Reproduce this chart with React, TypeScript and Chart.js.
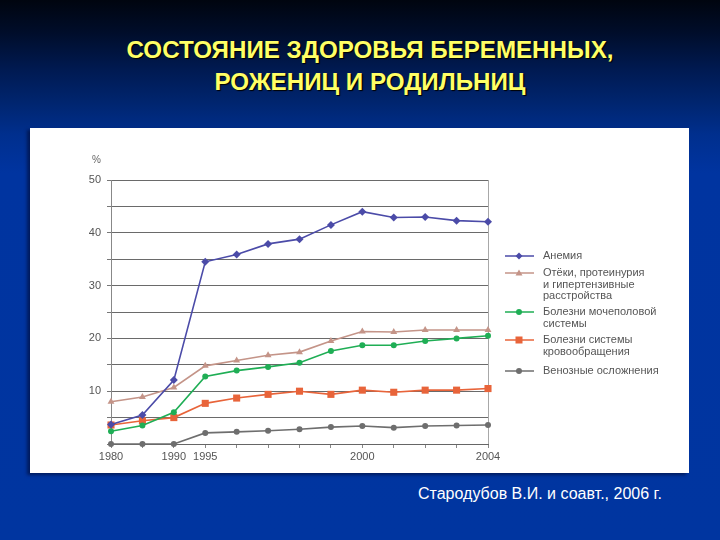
import React, { useEffect, useRef } from "react";
import { Chart, registerables } from "chart.js";

Chart.register(...registerables);

const years = ["1980", "1985", "1990", "1995", "1996", "1997", "1998", "1999", "2000", "2001", "2002", "2003", "2004"];
const xTickLabels = ["1980", "", "1990", "1995", "", "", "", "", "2000", "", "", "", "2004"];

const anemia = [3.7, 5.5, 12.1, 34.5, 35.9, 37.9, 38.8, 41.5, 44.0, 42.9, 43.0, 42.3, 42.1];
const edema = [8.0, 8.9, 10.7, 14.8, 15.8, 16.8, 17.4, 19.5, 21.3, 21.2, 21.6, 21.6, 21.6];
const urinary = [2.4, 3.5, 6.0, 12.8, 13.9, 14.6, 15.4, 17.6, 18.7, 18.7, 19.5, 20.0, 20.5];
const circulatory = [3.6, 4.4, 5.0, 7.7, 8.7, 9.4, 10.0, 9.4, 10.2, 9.8, 10.2, 10.2, 10.5];
const venous = [0, 0, 0, 2.1, 2.3, 2.5, 2.8, 3.2, 3.4, 3.1, 3.4, 3.5, 3.6];

const seriesNames = [
  "Анемия",
  "Отёки, протеинурия\nи гипертензивные\nрасстройства",
  "Болезни мочеполовой\nсистемы",
  "Болезни системы\nкровообращения",
  "Венозные осложнения",
];
const seriesColors = ["#4b4ba8", "#c49488", "#1fae55", "#e8643a", "#6e6e6e"];
const seriesStyles = ["rectRot", "triangle", "circle", "rect", "circle"];
const seriesRadius = [4, 4, 3, 5, 3];
const seriesData = [anemia, edema, urinary, circulatory, venous];

const legendTops = [251, 268, 307, 335, 366];

function Marker({ style, color }: { style: string; color: string }) {
  let shape: React.ReactNode = null;
  if (style === "rectRot") shape = <polygon points="14,1.5 17.5,5 14,8.5 10.5,5" fill={color} />;
  else if (style === "triangle") shape = <polygon points="14,1.5 17.5,7.5 10.5,7.5" fill={color} />;
  else if (style === "rect") shape = <rect x="10.5" y="1.5" width="7" height="7" fill={color} />;
  else shape = <circle cx="14" cy="5" r="3" fill={color} />;
  return (
    <svg width="29" height="10" style={{ display: "block" }}>
      <line x1="0" y1="5" x2="29" y2="5" stroke={color} strokeWidth="1.5" />
      {shape}
    </svg>
  );
}

export default function App() {
  const canvasRef = useRef<HTMLCanvasElement | null>(null);

  useEffect(() => {
    if (!canvasRef.current) return;
    const chart = new Chart(canvasRef.current, {
      type: "line",
      data: {
        labels: years,
        datasets: seriesData.map((d, i) => ({
          label: seriesNames[i],
          data: d,
          borderColor: seriesColors[i],
          backgroundColor: seriesColors[i],
          pointBackgroundColor: seriesColors[i],
          pointBorderColor: seriesColors[i],
          pointStyle: seriesStyles[i] as any,
          pointRadius: seriesRadius[i],
          pointBorderWidth: 0,
          borderWidth: 1.6,
          tension: 0,
          fill: false,
          clip: false as any,
          order: i === 0 ? -1 : i,
        })),
      },
      options: {
        responsive: false,
        animation: false,
        layout: { padding: { left: 0, right: 201, top: 52, bottom: 0 } },
        plugins: { legend: { display: false }, tooltip: { enabled: false } },
        scales: {
          x: {
            type: "category",
            offset: false,
            afterFit: (s: any) => {
              s.height = 29;
            },
            grid: {
              display: true,
              drawOnChartArea: true,
              drawTicks: true,
              tickLength: 4,
              color: (ctx: any) => (ctx.index === years.length - 1 ? "#a8a8a8" : "rgba(0,0,0,0)"),
              tickColor: "#888",
            },
            border: { display: true, color: "#666" },
            ticks: {
              autoSkip: false,
              maxRotation: 0,
              padding: 2,
              color: "#555",
              font: { family: "Liberation Sans", size: 11 },
              callback: (_v: any, i: number) => xTickLabels[i],
            },
          },
          y: {
            min: 0,
            max: 50,
            afterFit: (s: any) => {
              s.width = 81;
            },
            grid: {
              color: "#6a6a6a",
              tickLength: 4,
              tickColor: "#777",
              drawTicks: true,
            },
            border: { display: true, color: "#888" },
            ticks: {
              stepSize: 5,
              padding: 6,
              color: "#555",
              font: { family: "Liberation Sans", size: 11 },
              callback: (v: any) => (v % 10 === 0 && v > 0 ? String(v) : ""),
            },
          },
        },
      },
    });
    return () => chart.destroy();
  }, []);

  return (
    <div
      style={{
        position: "fixed",
        left: 0,
        top: 0,
        width: 720,
        height: 540,
        overflow: "hidden",
        background:
          "linear-gradient(to bottom, #00050f 0%, #000d2a 6%, #001a52 13%, #00256f 19%, #002f8e 25%, #0034a0 32%, #0035a0 100%)",
        fontFamily: "Liberation Sans, Arial, sans-serif",
      }}
    >
      <div
        style={{
          position: "absolute",
          left: 0,
          top: 34,
          width: 740,
          textAlign: "center",
          color: "#ffff66",
          fontWeight: "bold",
          fontSize: 23,
          lineHeight: "32px",
          textShadow: "1px 1px 1px #000",
          transform: "scaleX(1.05)",
          transformOrigin: "370px 0",
        }}
      >
        <div>СОСТОЯНИЕ ЗДОРОВЬЯ БЕРЕМЕННЫХ,</div>
        <div>РОЖЕНИЦ И РОДИЛЬНИЦ</div>
      </div>

      <div
        style={{
          position: "absolute",
          left: 30,
          top: 128,
          width: 659,
          height: 345,
          background: "#ffffff",
          boxShadow: "-3px 2px 3px rgba(0,10,50,0.6)",
        }}
      >
        <canvas ref={canvasRef} width={659} height={345} style={{ display: "block" }} />
        <div
          style={{
            position: "absolute",
            left: 62,
            top: 26,
            fontSize: 10,
            color: "#666",
          }}
        >
          %
        </div>
      </div>

      {seriesNames.map((name, i) => (
        <div
          key={i}
          style={{
            position: "absolute",
            left: 505,
            top: legendTops[i],
            display: "flex",
            alignItems: "flex-start",
          }}
        >
          <div>
            <Marker style={seriesStyles[i]} color={seriesColors[i]} />
          </div>
          <div
            style={{
              marginLeft: 9,
              marginTop: -1,
              fontSize: 11,
              lineHeight: "11.5px",
              color: "#555",
              whiteSpace: "pre",
            }}
          >
            {name}
          </div>
        </div>
      ))}

      <div
        style={{
          position: "absolute",
          left: 418,
          top: 485,
          fontSize: 16,
          color: "#ffffff",
          whiteSpace: "nowrap",
        }}
      >
        Стародубов В.И. и соавт., 2006 г.
      </div>
    </div>
  );
}
